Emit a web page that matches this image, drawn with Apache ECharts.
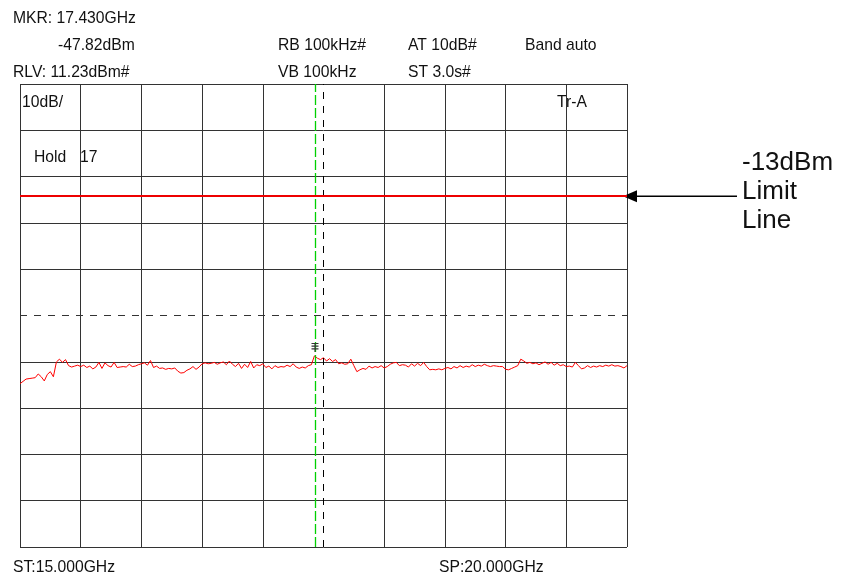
<!DOCTYPE html>
<html>
<head>
<meta charset="utf-8">
<script src="https://cdn.jsdelivr.net/npm/echarts@6/dist/echarts.min.js"></script>
<style>
html,body{margin:0;padding:0;background:#fff;}
#c{width:842px;height:581px;}
</style>
</head>
<body>
<div id="c"></div>
<script>
// ---- data ----
const START_GHZ = 15.0;
const STOP_GHZ = 20.0;
const STEP_GHZ = 0.025;
const RLV_DBM = 11.23;          // reference level (top of screen)
const DB_PER_DIV = 10;
const LIMIT_DBM = -13;
const MARKER_GHZ = 17.43;
const MARKER_DBM = -47.82;
const CENTER_GHZ = 17.5;

// measured trace (dBm), one value every 25 MHz from 15.000 to 20.000 GHz
const traceDbm = [
 -53.5,-53.0,-52.5,-52.4,-52.3,-52.2,-51.4,-52.0,-52.9,-51.5,
 -50.9,-52.0,-48.8,-48.2,-48.9,-48.3,-49.6,-49.9,-49.7,-49.5,
 -49.8,-49.5,-50.0,-49.7,-50.3,-49.9,-48.9,-50.2,-49.0,-49.6,
 -49.9,-48.9,-50.0,-49.9,-49.8,-49.9,-49.3,-49.8,-49.7,-49.4,
 -49.2,-49.0,-49.5,-48.5,-50.0,-49.7,-50.2,-50.1,-50.4,-50.2,
 -50.3,-50.1,-50.8,-51.2,-51.1,-50.6,-50.3,-49.8,-50.4,-49.9,
 -49.2,-49.0,-49.2,-49.1,-48.9,-49.3,-49.0,-48.8,-49.4,-48.6,
 -49.3,-49.8,-49.1,-50.2,-49.3,-50.0,-48.7,-50.1,-49.4,-49.6,
 -49.2,-50.0,-49.7,-50.3,-49.6,-50.0,-49.8,-49.9,-49.5,-49.8,
 -49.2,-49.9,-50.2,-49.9,-50.1,-49.6,-49.4,-47.5,-48.0,-48.3,
 -47.9,-48.6,-48.1,-48.7,-48.3,-49.2,-49.0,-49.3,-49.2,-48.2,
 -49.6,-50.9,-50.5,-50.2,-50.4,-49.7,-50.1,-49.8,-50.0,-49.6,
 -50.1,-49.8,-49.3,-49.0,-48.9,-49.6,-49.4,-49.5,-49.9,-49.2,
 -49.7,-49.1,-49.6,-48.9,-49.8,-50.5,-50.4,-50.5,-50.3,-50.5,
 -50.2,-50.0,-50.3,-49.8,-50.1,-49.6,-50.0,-49.7,-49.9,-49.4,
 -49.8,-49.5,-49.7,-49.3,-49.6,-49.8,-49.6,-49.7,-49.8,-49.8,
 -50.4,-50.5,-50.2,-49.9,-49.6,-48.2,-48.6,-49.1,-48.9,-49.2,
 -49.0,-49.4,-49.1,-48.8,-49.3,-48.9,-49.5,-49.1,-49.6,-49.4,
 -49.8,-49.7,-49.9,-48.9,-49.6,-50.3,-50.1,-49.6,-50.0,-49.7,
 -49.9,-49.6,-49.8,-49.5,-49.7,-49.4,-49.7,-49.6,-49.8,-50.1,
 -49.6
];

const headerTexts = [
  {text:'MKR: 17.430GHz', x:13,  y:19},
  {text:'-47.82dBm',      x:58,  y:46},
  {text:'RB 100kHz#',     x:278, y:46},
  {text:'AT 10dB#',       x:408, y:46},
  {text:'Band auto',      x:525, y:46},
  {text:'RLV: 11.23dBm#', x:13,  y:73},
  {text:'VB 100kHz',      x:278, y:73},
  {text:'ST 3.0s#',       x:408, y:73},
  {text:'10dB/',          x:22,  y:103},
  {text:'Tr-A',           x:557, y:103},
  {text:'Hold',           x:34,  y:158},
  {text:'17',             x:80,  y:158},
  {text:'ST:15.000GHz',   x:13,  y:568},
  {text:'SP:20.000GHz',   x:439, y:568}
];
const limitLabelLines = ['-13dBm', 'Limit', 'Line'];

// ---- build ----
const traceData = traceDbm.map((v, i) => [START_GHZ + i * STEP_GHZ, v - RLV_DBM]);
const gridColor = '#333333';
const splitColors = [];
for (let i = 0; i <= 10; i++) splitColors.push(i === 5 ? 'rgba(0,0,0,0)' : gridColor);

const FONT = '"Liberation Sans", Arial, sans-serif';

const chart = echarts.init(document.getElementById('c'), null, {renderer: 'canvas'});
const option = {
  animation: false,
  backgroundColor: '#fff',
  grid: {left: 20, right: 215, top: 84, bottom: 34, containLabel: false},
  xAxis: {
    type: 'value', min: START_GHZ, max: STOP_GHZ, interval: 0.5,
    axisLine: {show: false}, axisTick: {show: false}, axisLabel: {show: false},
    splitLine: {show: true, showMinLine: true, showMaxLine: true, lineStyle: {color: splitColors, width: 1}}
  },
  yAxis: {
    type: 'value', min: -10 * DB_PER_DIV, max: 0, interval: DB_PER_DIV,
    axisLine: {show: false}, axisTick: {show: false}, axisLabel: {show: false},
    splitLine: {show: true, showMinLine: true, showMaxLine: true, lineStyle: {color: splitColors, width: 1}}
  },
  series: [
    {
      type: 'line', name: 'grid-centre', data: [], silent: true,
      markLine: {
        silent: true, symbol: 'none', label: {show: false}, animation: false,
        data: [
          {xAxis: CENTER_GHZ, lineStyle: {color: '#000', width: 1, type: [7, 7]}},
          {yAxis: -5 * DB_PER_DIV, lineStyle: {color: '#333', width: 1, type: [7, 7]}}
        ]
      }
    },
    {
      type: 'line', name: 'marker', data: [], silent: true, z: 3,
      markLine: {
        silent: true, symbol: 'none', label: {show: false}, animation: false,
        lineStyle: {color: '#00d000', width: 1.3, type: [10, 3], opacity: 1},
        data: [{xAxis: MARKER_GHZ}]
      }
    },
    {
      type: 'line', name: 'Tr-A', data: traceData, showSymbol: false, silent: true,
      lineStyle: {color: '#ff0000', width: 1}, z: 4,
      markPoint: {
        silent: true, animation: false,
        symbol: 'path://M0,0h8v1.2h-8z M0,3h8v1.2h-8z M0,6h8v1.2h-8z M3.4,0h1.2v10h-1.2z',
        symbolSize: [7, 9], symbolOffset: [0, -10],
        itemStyle: {color: '#333'}, label: {show: false},
        data: [{coord: [MARKER_GHZ, MARKER_DBM - RLV_DBM]}]
      }
    },
    {
      type: 'line', name: 'limit', data: [], silent: true, z: 5,
      markLine: {
        silent: true, symbol: 'none', label: {show: false}, animation: false,
        lineStyle: {color: '#ee0000', width: 2, type: 'solid'},
        data: [{yAxis: LIMIT_DBM - RLV_DBM}]
      }
    }
  ]
};
chart.setOption(option);

const limitY = chart.convertToPixel({yAxisIndex: 0}, LIMIT_DBM - RLV_DBM);
const rightX = chart.convertToPixel({xAxisIndex: 0}, STOP_GHZ);

const graphics = headerTexts.map(t => ({
  type: 'text', x: t.x, y: t.y, silent: true,
  style: {text: t.text, fill: '#111', font: '15.7px ' + FONT, verticalAlign: 'middle', align: 'left'}
}));
limitLabelLines.forEach((s, i) => {
  graphics.push({
    type: 'text', x: 742, y: limitY - 33 + i * 29, silent: true,
    style: {text: s, fill: '#111', font: '26px ' + FONT, verticalAlign: 'middle', align: 'left'}
  });
});
graphics.push({
  type: 'line', silent: true,
  shape: {x1: rightX + 10, y1: limitY, x2: 737, y2: limitY},
  style: {stroke: '#000', lineWidth: 1.5}
});
graphics.push({
  type: 'polygon', silent: true,
  shape: {points: [[rightX - 4, limitY], [rightX + 10, limitY - 6], [rightX + 10, limitY + 6]]},
  style: {fill: '#000'}
});
chart.setOption({graphic: graphics});
</script>
</body>
</html>
